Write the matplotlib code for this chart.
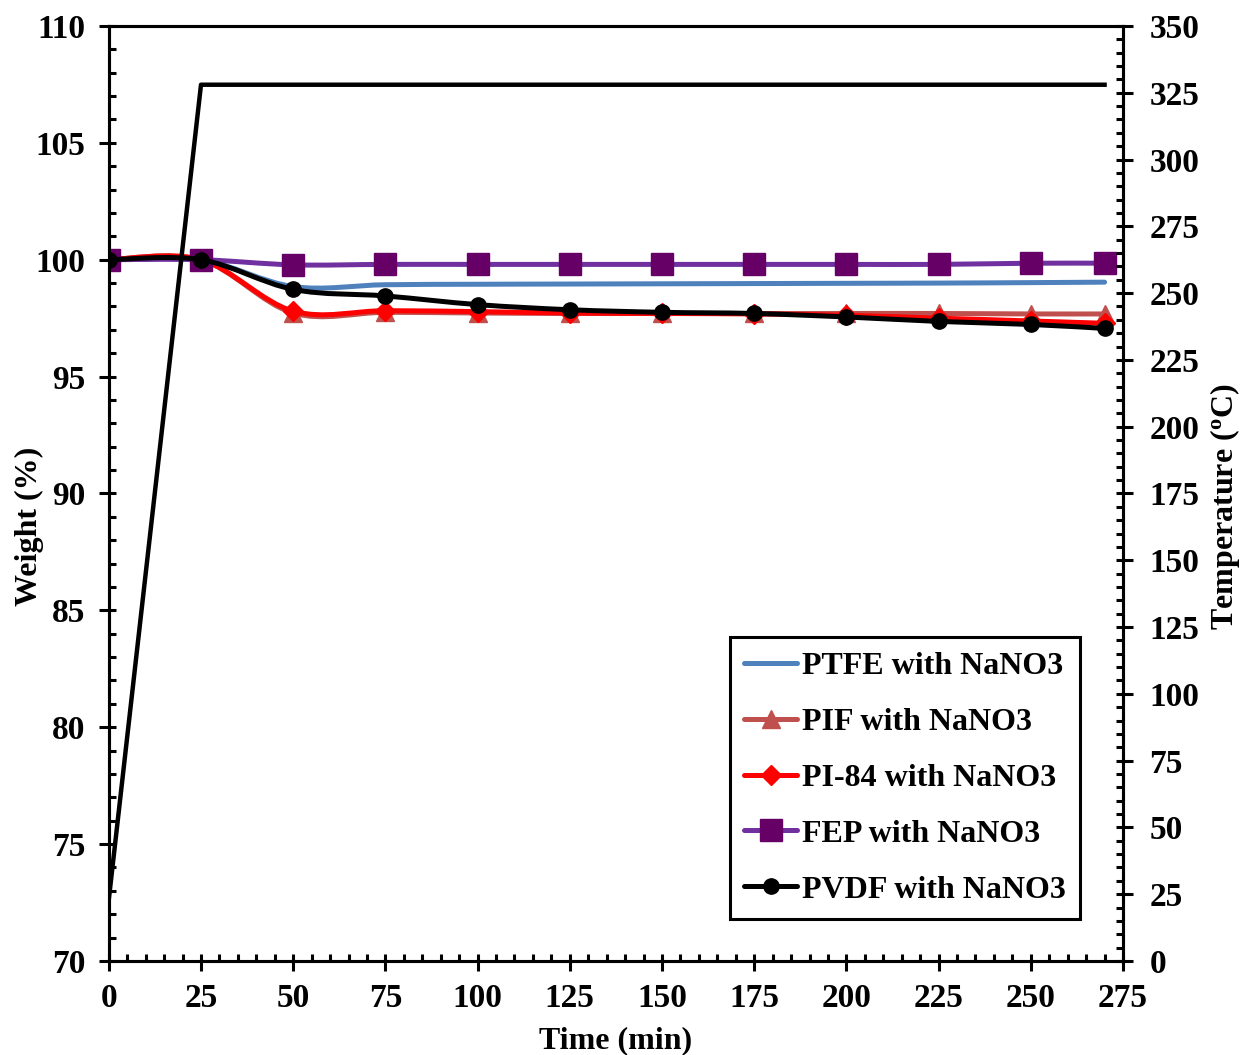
import numpy as np
import matplotlib
matplotlib.use("Agg")
from matplotlib import pyplot as plt
from matplotlib.path import Path
from matplotlib.patches import PathPatch
from matplotlib.lines import Line2D
from matplotlib.ticker import MultipleLocator

plt.rcParams['font.family'] = ['Liberation Serif', 'DejaVu Serif']
plt.rcParams['font.weight'] = 'bold'
plt.rcParams['mathtext.fontset'] = 'custom'
plt.rcParams['mathtext.rm'] = 'Liberation Serif:bold'
plt.rcParams['mathtext.default'] = 'regular'

# time of each weighing (min)
time = [0, 25, 50, 75, 100, 125, 150, 175, 200, 225, 250, 270]

# weight (%)
ptfe = [100.0, 100.0, 98.85, 98.93, 98.95, 98.96, 98.97, 98.98, 98.99, 99.0, 99.02, 99.04]
pif = [100.0, 100.0, 97.72, 97.75, 97.72, 97.7, 97.7, 97.7, 97.7, 97.7, 97.68, 97.68]
pi84 = [100.0, 100.0, 97.8, 97.82, 97.78, 97.72, 97.7, 97.68, 97.62, 97.5, 97.38, 97.28]
fep = [100.0, 100.0, 99.78, 99.8, 99.8, 99.8, 99.8, 99.8, 99.8, 99.8, 99.85, 99.85]
pvdf = [100.0, 100.0, 98.73, 98.45, 98.08, 97.86, 97.75, 97.7, 97.55, 97.36, 97.23, 97.06]

# oven temperature (C)
temp_time = [0, 25, 270]
temp = [23, 328, 328]

names = ['PTFE with NaNO3', 'PIF with NaNO3', 'PI-84 with NaNO3',
         'FEP with NaNO3', 'PVDF with NaNO3']
line_colors = ['#4F81BD', '#C0504D', '#FF0000', '#7030A0', '#000000']
marker_colors = [None, '#C0504D', '#FF0000', '#660066', '#000000']
markers = [None, '^', 'D', 's', 'o']
marker_sizes = [0, 13.5, 10, 15.5, 11]


def smooth_path(x, y):
    # cardinal spline through the points, written as cubic bezier segments
    x = np.asarray(x, float)
    y = np.asarray(y, float)
    pts = np.column_stack([x, y])
    n = len(pts)
    verts = [pts[0]]
    codes = [Path.MOVETO]
    for i in range(n - 1):
        p0 = pts[max(i - 1, 0)]
        p1 = pts[i]
        p2 = pts[i + 1]
        p3 = pts[min(i + 2, n - 1)]
        c1 = p1 + (p2 - p0) / 6.0
        c2 = p2 - (p3 - p1) / 6.0
        verts += [c1, c2, p2]
        codes += [Path.CURVE4] * 3
    return Path(verts, codes)


fig = plt.figure(figsize=(12.42, 10.55), dpi=100)
ax = fig.add_axes([0.0876, 0.0891, 0.8166, 0.8863])
ax2 = ax.twinx()

series = [ptfe, pif, pi84, fep, pvdf]
handles = []
for k, vals in enumerate(series):
    patch = PathPatch(smooth_path(time, vals), fill=False, edgecolor=line_colors[k],
                      linewidth=3.6, capstyle='round', joinstyle='round', zorder=2 + k)
    ax.add_patch(patch)
    if markers[k] is not None:
        ax.plot(time, vals, linestyle='none', marker=markers[k], markersize=marker_sizes[k],
                markerfacecolor=marker_colors[k], markeredgecolor=marker_colors[k],
                zorder=2.5 + k)
    handles.append(Line2D([], [], color=line_colors[k], linewidth=3.6,
                          marker=markers[k] if markers[k] else None,
                          markersize=marker_sizes[k],
                          markerfacecolor=marker_colors[k],
                          markeredgecolor=marker_colors[k],
                          solid_capstyle='round'))

ax2.plot(temp_time, temp, color='black', linewidth=3.2, zorder=3)

ax.set_xlim(0, 275)
ax.set_ylim(70, 110)
ax2.set_ylim(0, 350)

ax.xaxis.set_major_locator(MultipleLocator(25))
ax.xaxis.set_minor_locator(MultipleLocator(5))
ax.yaxis.set_major_locator(MultipleLocator(5))
ax.yaxis.set_minor_locator(MultipleLocator(1))
ax2.yaxis.set_major_locator(MultipleLocator(25))
ax2.yaxis.set_minor_locator(MultipleLocator(5))
for a in (ax.xaxis, ax.yaxis, ax2.yaxis):
    a.remove_overlapping_locs = False

for a in (ax, ax2):
    for s in a.spines.values():
        s.set_linewidth(2.2)

ax.tick_params(axis='both', which='major', direction='out', length=7, width=2.2,
               labelsize=24)
ax.tick_params(axis='x', which='major', pad=9)
ax.tick_params(axis='y', which='major', pad=10)
ax.tick_params(axis='both', which='minor', direction='in', length=5, width=2.2)
ax.tick_params(axis='y', right=False, which='both')
ax.tick_params(axis='x', top=False, which='both')
ax2.tick_params(axis='y', which='major', direction='out', length=7, width=2.2,
                labelsize=24, pad=12)
ax2.tick_params(axis='y', which='minor', direction='in', length=5, width=2.2)

for lab in ax.get_xticklabels() + ax.get_yticklabels() + ax2.get_yticklabels():
    lab.set_fontweight('bold')

ax.set_xlabel('Time (min)', fontsize=23, fontweight='bold')
ax.set_ylabel('Weight (%)', fontsize=23, fontweight='bold')
ax2.set_ylabel('Temperature ($^{o}$C)', fontsize=23, fontweight='bold')
ax.xaxis.set_label_coords(0.5, -0.0695)
ax.yaxis.set_label_coords(-0.064, 0.465)
ax2.yaxis.set_label_coords(1.084, 0.486)

leg = ax2.legend(handles, names, loc='lower left', bbox_to_anchor=(0.6126, 0.045),
                 fontsize=23, handlelength=1.65, handletextpad=0.15, labelspacing=0.83,
                 borderpad=0.45, frameon=True, fancybox=False, framealpha=1,
                 borderaxespad=0)
leg.get_frame().set_edgecolor('black')
leg.get_frame().set_linewidth(2.2)
for t in leg.get_texts():
    t.set_fontweight('bold')
leg.set_zorder(20)

fig.savefig('out.png', dpi=100)
